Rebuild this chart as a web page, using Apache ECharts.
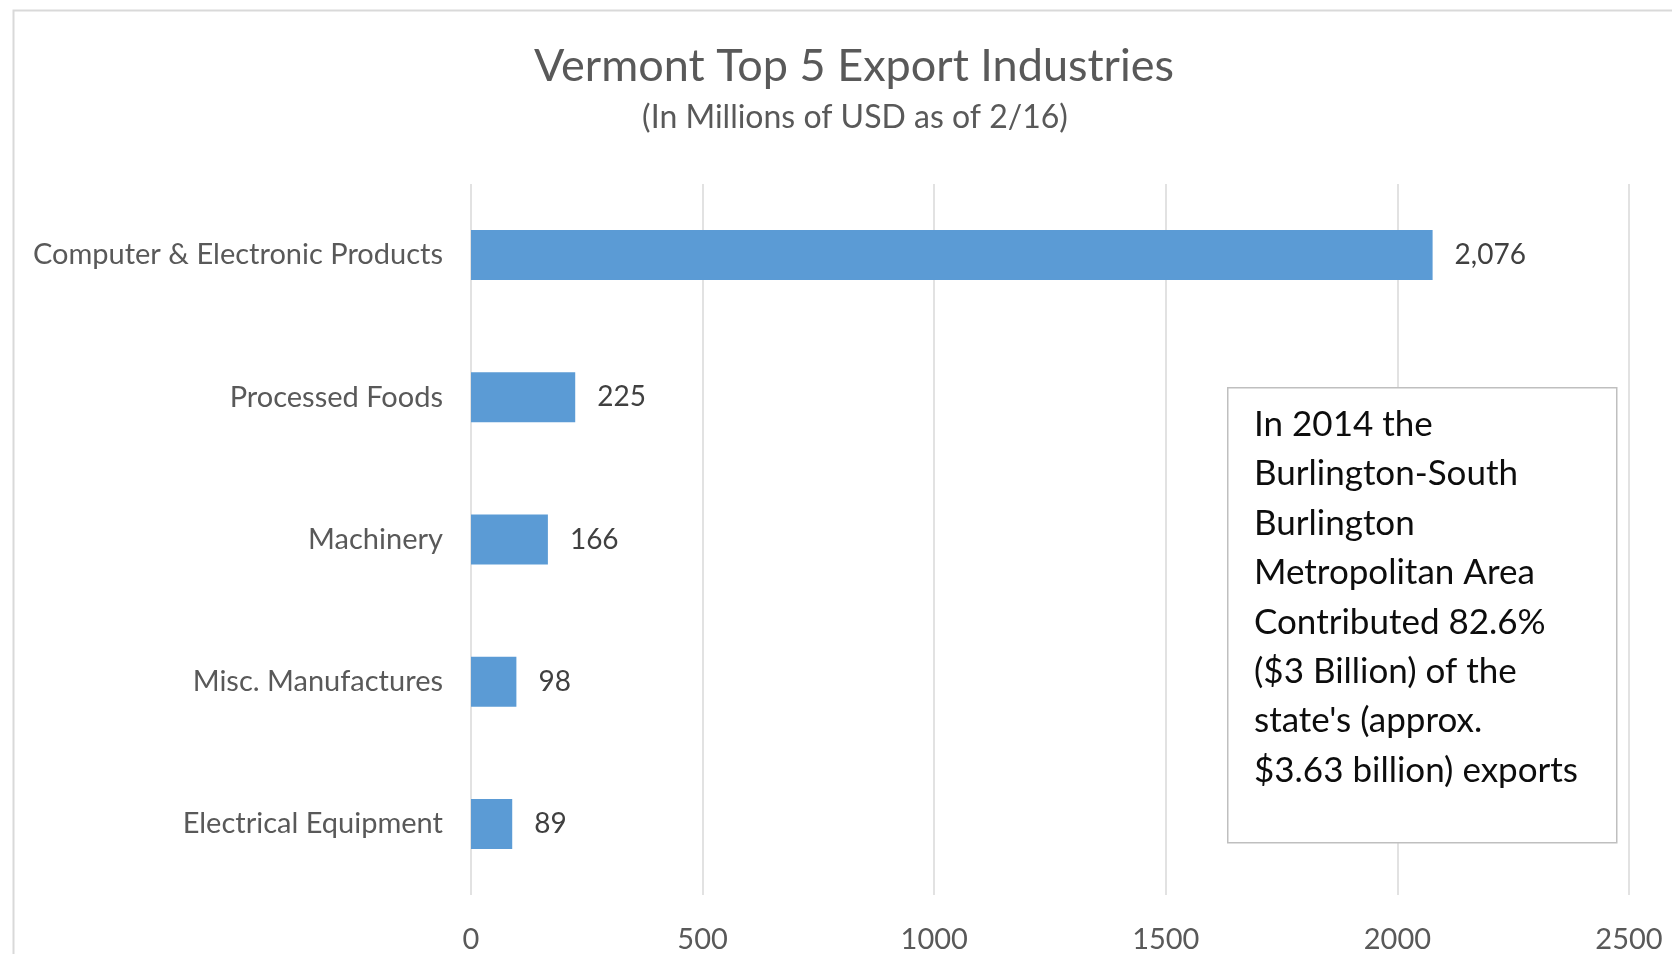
<!DOCTYPE html>
<html>
<head>
<meta charset="utf-8">
<script src="https://cdn.jsdelivr.net/npm/echarts@6/dist/echarts.min.js"></script>
<style>
html,body{margin:0;padding:0;background:#fff;}
#chart{width:1672px;height:954px;}
</style>
</head>
<body>
<div id="chart"></div>
<script>
const categories = ["Computer & Electronic Products", "Processed Foods", "Machinery", "Misc. Manufactures", "Electrical Equipment"];
const values = [2076, 225, 166, 98, 89];
const titleText = "Vermont Top 5 Export Industries";
const subtitleText = "(In Millions of USD as of 2/16)";
const noteLines = [
  "In 2014 the",
  "Burlington-South",
  "Burlington",
  "Metropolitan Area",
  "Contributed 82.6%",
  "($3 Billion) of the",
  "state's (approx.",
  "$3.63 billion) exports"
];

const FONT = 'Lato, "Open Sans", sans-serif';
const chart = echarts.init(document.getElementById('chart'), null, {renderer: 'canvas'});
chart.setOption({
  backgroundColor: '#ffffff',
  animation: false,
  grid: {left: 471, right: 43, top: 184, bottom: 58, containLabel: false},
  xAxis: {
    type: 'value', min: 0, max: 2500, interval: 500,
    axisLine: {show: false}, axisTick: {show: false},
    splitLine: {show: true, lineStyle: {color: '#d9d9d9', width: 1.5}},
    axisLabel: {fontFamily: FONT, fontSize: 29, color: '#595959', margin: 30,
                formatter: v => String(v)}
  },
  yAxis: {
    type: 'category', data: categories, inverse: true,
    axisLine: {show: false}, axisTick: {show: false},
    axisLabel: {fontFamily: FONT, fontSize: 29, color: '#595959', margin: 28}
  },
  series: [{
    type: 'bar', data: values, barWidth: 50,
    itemStyle: {color: '#5B9BD5'},
    label: {show: true, position: 'right', distance: 22,
      fontFamily: FONT, fontSize: 28, color: '#404040',
      formatter: p => p.value.toLocaleString('en-US')}
  }],
  graphic: [
    {type: 'rect', left: 11, top: 8, z: 0,
     shape: {width: 1700, height: 1000},
     style: {fill: 'none', stroke: '#d9d9d9', lineWidth: 2}},
    {type: 'text', z: 10,
     style: {x: 854, y: 66, text: titleText, textAlign: 'center', textVerticalAlign: 'middle',
             fontFamily: FONT, fontSize: 45, fill: '#595959'}},
    {type: 'text', z: 10,
     style: {x: 855, y: 118, text: subtitleText, textAlign: 'center', textVerticalAlign: 'middle',
             fontFamily: FONT, fontSize: 32, fill: '#595959'}},
    {type: 'rect', left: 1227, top: 387, z: 100, zlevel: 1,
     shape: {width: 389, height: 455},
     style: {fill: '#ffffff', stroke: '#bfbfbf', lineWidth: 1.5}},
    {type: 'text', left: 1254, top: 400, z: 101, zlevel: 1,
     style: {text: noteLines.join('\n'), fontFamily: FONT, fontSize: 35,
             lineHeight: 49.4, fill: '#0d0d0d'}}
  ]
});
</script>
</body>
</html>
